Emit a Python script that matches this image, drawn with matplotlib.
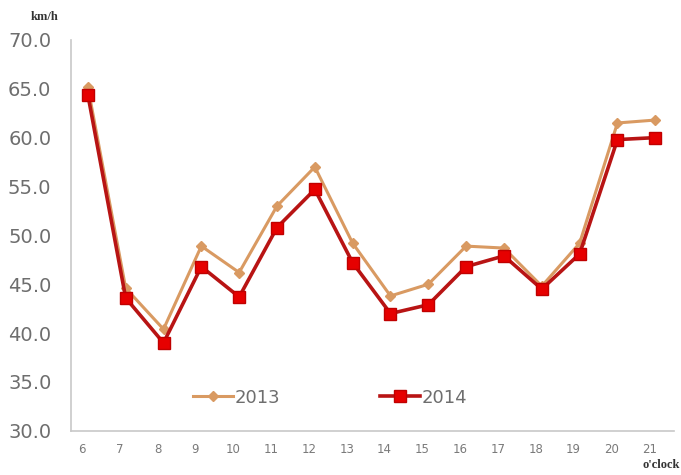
import matplotlib
matplotlib.use("Agg")
import matplotlib.pyplot as plt
import matplotlib.transforms as mtransforms

hours = ["6", "7", "8", "9", "10", "11", "12", "13", "14", "15", "16", "17", "18", "19", "20", "21"]
speed_2013 = [65.2, 44.6, 40.4, 48.9, 46.2, 53.0, 57.0, 49.2, 43.8, 45.0, 48.9, 48.7, 44.8, 49.2, 61.5, 61.8]
speed_2014 = [64.4, 43.6, 39.0, 46.8, 43.7, 50.8, 54.7, 47.2, 42.0, 42.9, 46.8, 47.9, 44.5, 48.1, 59.8, 60.0]

fig = plt.figure(figsize=(6.81, 4.75), dpi=100)
ax = fig.add_axes([0.104, 0.093, 0.886, 0.823])

x = list(range(len(hours)))
ax.plot(x, speed_2013, color="#D99A62", lw=2.2, marker="D", ms=5.5,
        markerfacecolor="#D99A62", markeredgecolor="#D99A62", label="2013", zorder=3)
ax.plot(x, speed_2014, color="#B81414", lw=2.6, marker="s", ms=8.5,
        markerfacecolor="#E60000", markeredgecolor="#C00000", label="2014", zorder=4)

ax.set_xlim(-0.45, len(hours) - 0.5)
ax.set_ylim(30, 70)
ax.set_yticks([30, 35, 40, 45, 50, 55, 60, 65, 70])
ax.set_yticklabels([f"{v:.1f}" for v in [30, 35, 40, 45, 50, 55, 60, 65, 70]],
                   fontsize=14, color="#6E6E6E")
ax.set_xticks(x)
ax.set_xticklabels(hours, fontsize=8.5, color="#7A7A7A")
ax.tick_params(axis="both", length=0)
ax.tick_params(axis="y", pad=14)
ax.tick_params(axis="x", pad=9)
offset = mtransforms.ScaledTranslation(-6 / 100, 0, fig.dpi_scale_trans)
for lbl in ax.get_xticklabels():
    lbl.set_transform(lbl.get_transform() + offset)

for s in ["top", "right"]:
    ax.spines[s].set_visible(False)
for s in ["left", "bottom"]:
    ax.spines[s].set_color("#C8C8C8")
    ax.spines[s].set_linewidth(1.2)

leg = ax.legend(loc="lower center", bbox_to_anchor=(0.43, 0.02), ncol=2, frameon=False,
                fontsize=13, handlelength=2.2, columnspacing=5.5, handletextpad=0.1,
                labelcolor="#6E6E6E")

fig.text(0.045, 0.965, "km/h", fontsize=9, fontweight="bold", family="Liberation Serif",
         color="#333333", ha="left", va="center")
fig.text(0.998, 0.008, "o'clock", fontsize=9, fontweight="bold", family="Liberation Serif",
         color="#333333", ha="right", va="bottom")

fig.savefig("out.png", dpi=100)
